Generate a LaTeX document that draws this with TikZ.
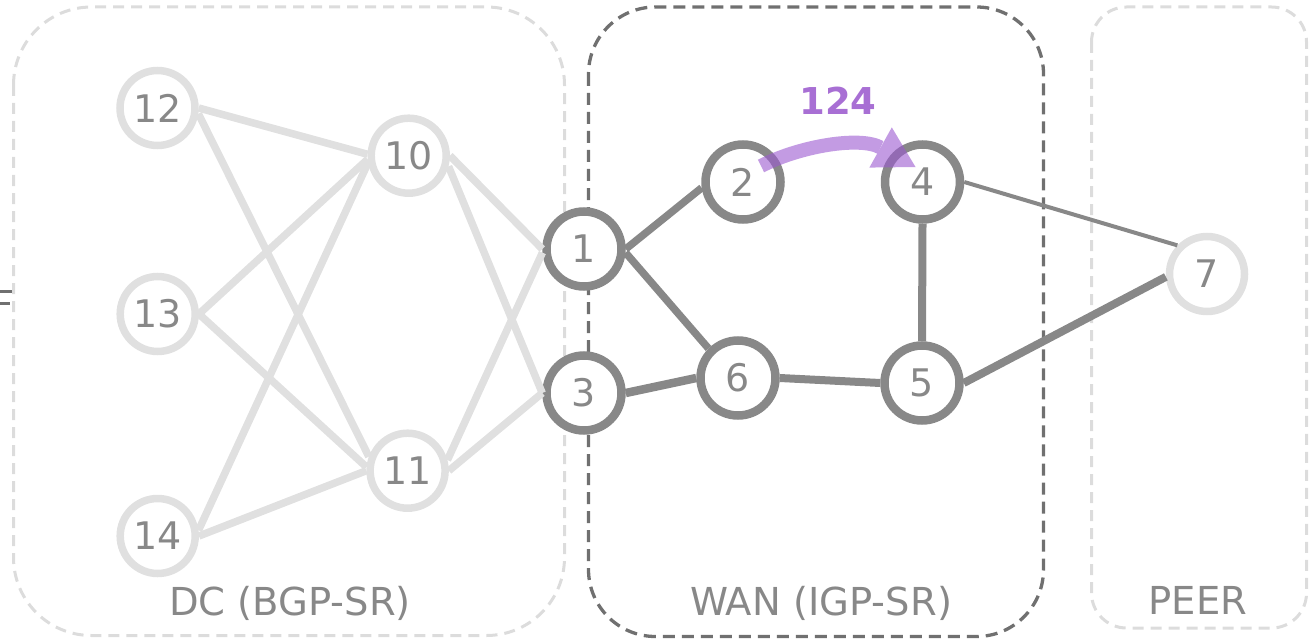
\documentclass[tikz,border=0pt]{standalone}
\usepackage{fontspec}
\setmainfont{DejaVu Sans}
\usetikzlibrary{arrows.meta,calc}
\definecolor{lite}{HTML}{E0E0E0}
\definecolor{boxlite}{HTML}{DCDCDC}
\definecolor{mid}{HTML}{888888}
\definecolor{dark}{HTML}{707070}
\definecolor{txt}{HTML}{888888}
\definecolor{purp}{HTML}{9B59D0}
\definecolor{purptxt}{HTML}{A86FD4}
\tikzset{
  dcnode/.style={circle, draw=lite, line width=7.5pt, fill=white, minimum size=75pt, inner sep=0pt, text=txt, font=\fontsize{38}{40}\selectfont},
  wannode/.style={circle, draw=mid, line width=8.5pt, fill=white, minimum size=75pt, inner sep=0pt, text=txt, font=\fontsize{38}{40}\selectfont},
  dcedge/.style={draw=lite, line width=7.5pt},
  wanedge/.style={draw=mid, line width=7.5pt},
  litebox/.style={draw=boxlite, line width=3pt, dash pattern=on 11pt off 7pt},
  darkbox/.style={draw=dark, line width=3.3pt, dash pattern=on 12pt off 7pt},
  zonelabel/.style={anchor=base, text=txt, font=\fontsize{38.5}{40}\selectfont, inner sep=0pt},
  pathlabel/.style={anchor=base, text=purptxt, font=\fontsize{37}{40}\selectfont\bfseries, inner sep=0pt},
  srpath/.style={draw=purp, line width=14pt, -{Triangle[length=40pt,width=46pt,line width=0pt]}}
}
\begin{document}
\begin{tikzpicture}[x=1pt,y=-1pt]
\useasboundingbox (0,0) rectangle (1313,639);
% zones
\draw[litebox, rounded corners=78pt] (13.5,7) rectangle (564.5,635.5);
\draw[darkbox, rounded corners=67pt] (588.5,7) rectangle (1043.5,636.5);
\draw[litebox, rounded corners=35pt] (1091.5,7) rectangle (1306.5,628);
% cut-off glyph at left edge
\draw[dark, line width=3pt] (0,291) -- (12,291);
\draw[dark, line width=3pt] (0,303.5) -- (10,303.5);
% nodes
\node[dcnode] (n12) at (157.5,108) {12};
\node[dcnode] (n13) at (157.7,314) {13};
\node[dcnode] (n14) at (157.7,536) {14};
\node[dcnode] (n10) at (408.7,155.7) {10};
\node[dcnode] (n11) at (407.6,470.7) {11};
\node[wannode] (n1) at (584,249) {1};
\node[wannode] (n3) at (584,393) {3};
\node[wannode] (n2) at (743,182) {2};
\node[wannode] (n4) at (922.5,182) {4};
\node[wannode] (n6) at (738,378) {6};
\node[wannode] (n5) at (922,383) {5};
\node[dcnode] (n7) at (1207,274) {7};
% DC edges
\draw[dcedge] (n12.east) -- (n10.178);
\draw[dcedge] (n12.-8) -- (n11.160);
\draw[dcedge] (n13.east) -- (n10.185);
\draw[dcedge] (n13.east) -- (n11.175);
\draw[dcedge] (n14.8) -- (n10.190);
\draw[dcedge] (n14.east) -- (n11.west);
\draw[dcedge] (n10.east) -- (n1.west);
\draw[dcedge] (n10.-15) -- (n3.west);
\draw[dcedge] (n11.15) -- (n1.185);
\draw[dcedge] (n11.east) -- (n3.west);
% WAN edges
\draw[wanedge] (n1.east) -- (n2.188);
\draw[wanedge] (n1.-5) -- (n6.north west);
\draw[wanedge, line width=8.5pt] (n3.east) -- (n6.west);
\draw[wanedge, line width=8pt] (n6.east) -- (n5.west);
\draw[wanedge, line width=8pt] (n4.south) -- (n5.north);
\draw[wanedge, line width=4pt] (n4.east) -- (n7.136);
\draw[wanedge, line width=8pt] (n5.east) -- (n7.184);
% SR path
\coordinate (ps) at ($(n2)+(18,-16)$);
\coordinate (pe) at ($(n4)+(-7,-15)$);
\begin{scope}[transparency group, opacity=0.6]
\draw[srpath] (ps) .. controls (800,146) and (860,136) .. (pe);
\end{scope}
\node[pathlabel] (lbl) at (838,115) {124};
% zone labels
\node[zonelabel] (ldc) at (290,615) {DC (BGP-SR)};
\node[zonelabel] (lwan) at (821,615) {WAN (IGP-SR)};
\node[zonelabel] (lpeer) at (1198,614) {PEER};
\end{tikzpicture}
\end{document}
